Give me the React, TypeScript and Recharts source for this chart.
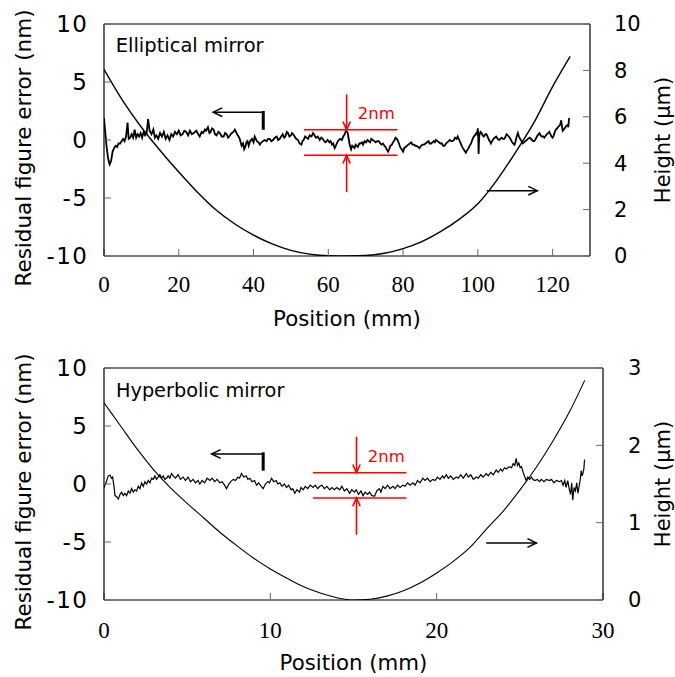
import React from 'react';
import { LineChart, Line, XAxis, YAxis, ReferenceLine, ReferenceDot } from 'recharts';

const SANS = "'DejaVu Sans', 'Open Sans', sans-serif";
const SERIF = "'Liberation Serif', 'DejaVu Serif', serif";

// ---------- Elliptical mirror (top) ----------
const ellipticalXTicks = [0, 20, 40, 60, 80, 100, 120];
const ellipticalHeightTicks = [0, 2, 4, 6, 8, 10];
const errorTicks = [-10, -5, 0, 5, 10];

// shape height (µm) vs position (mm)
const ellipticalHeight: [number, number][] = [
  [0, 8.05], [5, 6.7], [10, 5.55], [15, 4.55], [20, 3.62], [25, 2.75], [30, 1.98],
  [35, 1.38], [40, 0.9], [45, 0.52], [50, 0.24], [55, 0.08], [60, 0.01], [65, 0],
  [70, 0.02], [75, 0.12], [80, 0.32], [85, 0.62], [90, 1.05], [95, 1.58], [100, 2.25],
  [105, 3.25], [110, 4.45], [115, 5.75], [120, 7.3], [124.7, 8.6],
];

// residual figure error (nm) vs position (mm)
const ellipticalError: [number, number][] = [
  [0, 1.9], [0.3, 0.8], [0.7, -0.6], [1.1, -1.6], [1.5, -2.1], [1.9, -1.8], [2.3, -1.0],
  [2.7, -0.7], [3.1, -0.5], [3.5, -0.6], [3.9, -0.3], [4.3, -0.3], [4.7, -0.1], [5.1, 0.1],
  [5.5, -0.1], [5.9, 0.3], [6.3, 1.5], [6.6, 0.1], [7.0, 0.2], [7.4, 0.5], [7.8, 0.2],
  [8.2, 0.9], [8.6, 0.2], [9.0, 0.5], [9.4, 0.3], [9.8, 0.6], [10.2, 0.2], [10.6, 0.7],
  [11.0, 0.4], [11.4, 0.6], [11.8, 1.8], [12.2, 0.8], [12.7, 0.5], [13.2, 0.9], [13.6, 0.2],
  [14.0, 0.4], [14.5, 0.1], [15.0, 0.6], [15.5, 0.3], [16.0, 0.7], [16.5, 0.1], [17.0, 0.4],
  [17.5, 0.0], [18.0, 0.5], [18.5, 0.3], [19.0, 0.7], [19.5, 0.5], [20.0, 0.8], [20.5, 0.4],
  [21.0, 0.5], [21.5, 0.8], [22.0, 0.7], [22.5, 0.4], [23.0, 0.8], [23.5, 0.5], [24.0, 0.6],
  [24.7, 0.8], [25.2, 0.5], [25.6, 0.3], [26.1, 0.7], [26.5, 0.6], [27.0, 0.9], [27.3, 0.8],
  [27.8, 1.1], [28.2, 0.6], [28.5, 0.7], [28.9, 1.0], [29.3, 0.9], [29.7, 0.5], [30.1, 0.4],
  [30.6, 0.7], [31.0, 0.6], [31.5, 0.3], [32.0, 0.3], [32.4, 0.6], [32.8, 0.5], [33.2, 0.2],
  [33.5, 0.3], [33.9, 0.5], [34.2, 0.6], [34.6, 0.7], [35.0, 0.9], [35.3, 0.7], [35.6, 0.5],
  [36.0, 0.3], [36.3, 0.1], [36.8, -0.5], [37.2, -0.3], [37.5, -0.8], [37.8, -0.6], [38.1, -0.2],
  [38.4, -0.1], [38.7, -0.5], [39.0, -0.2], [39.3, 0.0], [39.6, 0.1], [40.0, -0.2], [40.3, 0.3],
  [40.6, 0.1], [40.9, -0.1], [41.3, -0.2], [41.7, -0.4], [42.1, -0.2], [42.5, -0.1], [43.0, 0.0],
  [43.5, -0.1], [43.9, 0.1], [44.3, 0.1], [44.8, -0.1], [45.2, 0.0], [45.7, 0.2], [46.2, 0.3],
  [46.6, 0.0], [47.0, 0.1], [47.4, 0.3], [47.8, 0.5], [48.2, 0.2], [48.5, 0.3], [48.9, 0.7],
  [49.2, 0.6], [49.6, 0.3], [50.0, 0.4], [50.3, 0.6], [50.6, 0.5], [51.0, 0.3], [51.4, 0.1],
  [51.9, 0.0], [52.3, -0.3], [52.8, -0.4], [53.1, -0.1], [53.4, 0.0], [53.8, 0.3], [54.2, 0.2],
  [54.6, 0.1], [55.0, 0.4], [55.5, 0.3], [55.9, 0.6], [56.3, 0.4], [56.7, 0.2], [57.2, 0.3],
  [57.7, 0.0], [58.1, 0.2], [58.5, 0.1], [58.9, -0.1], [59.3, -0.2], [59.8, 0.0], [60.3, -0.2],
  [60.6, -0.1], [61.0, -0.4], [61.3, -0.3], [61.7, -0.7], [62.0, -0.5], [62.4, -0.2], [62.8, 0.0],
  [63.2, 0.1], [63.6, 0.0], [64.0, 0.3], [64.4, 0.5], [64.7, 0.8], [65.0, 0.7], [65.2, 0.6],
  [65.5, 0.0], [65.7, -0.4], [66.1, -0.8], [66.4, -0.5], [66.7, -0.6], [67.0, -0.7], [67.3, -0.4],
  [67.6, -0.5], [67.9, -0.6], [68.3, -0.3], [68.6, -0.3], [69.0, -0.2], [69.3, -0.4], [69.7, -0.1],
  [70.1, -0.2], [70.5, 0.0], [70.8, -0.1], [71.2, -0.2], [71.5, 0.1], [71.9, 0.0], [72.3, -0.1],
  [72.7, -0.2], [73.1, -0.1], [73.5, -0.1], [73.9, -0.3], [74.2, -0.4], [74.6, -0.3], [75.0, -0.5],
  [75.3, -0.6], [75.6, -0.8], [76.0, -1.0], [76.3, -0.8], [76.6, -0.5], [77.0, -0.4], [77.3, -0.2],
  [77.7, 0.0], [78.0, 0.2], [78.3, 0.1], [78.5, 0.0], [78.9, -0.3], [79.2, -0.6], [79.6, -0.8],
  [80.0, -1.0], [80.3, -0.7], [80.7, -0.6], [81.0, -0.5], [81.4, -0.4], [81.8, -0.3], [82.2, -0.2],
  [82.5, -0.4], [82.9, -0.4], [83.3, -0.5], [83.6, -0.5], [84.0, -0.6], [84.4, -0.7], [84.8, -0.5],
  [85.2, -0.4], [85.6, -0.4], [86.0, -0.3], [86.4, -0.2], [86.8, -0.1], [87.1, -0.3], [87.5, -0.3],
  [87.9, -0.2], [88.2, -0.1], [88.5, -0.2], [88.8, 0.0], [89.2, -0.1], [89.6, -0.2], [90.0, -0.3],
  [90.4, -0.3], [90.7, -0.5], [91.1, -0.5], [91.5, -0.3], [91.8, -0.2], [92.2, -0.1], [92.5, 0.0],
  [92.9, -0.1], [93.2, -0.1], [93.6, 0.0], [93.9, 0.2], [94.3, 0.1], [94.6, 0.3], [95.0, 0.0],
  [95.3, -0.2], [95.7, -0.5], [96.0, -0.7], [96.4, -0.9], [96.8, -1.1], [97.1, -0.9], [97.5, -0.7],
  [97.8, -0.5], [98.2, -0.3], [98.5, 0.0], [98.9, 0.3], [99.2, 0.4], [99.6, 0.6], [99.8, 0.5],
  [100.0, 1.0], [100.1, 0.3], [100.2, -1.2], [100.3, -0.2], [100.4, 0.4], [100.7, 0.7], [101.0, 0.6],
  [101.3, 0.4], [101.6, 0.3], [102.0, 0.5], [102.3, 0.5], [102.6, 0.3], [103.0, 0.0], [103.5, -0.3],
  [103.8, -0.1], [104.2, 0.1], [104.5, 0.2], [104.9, 0.3], [105.3, 0.1], [105.7, 0.0], [106.0, 0.1],
  [106.4, 0.2], [106.7, 0.1], [107.1, 0.1], [107.4, 0.3], [107.7, 0.5], [108.0, 0.4], [108.3, 0.3],
  [108.7, 0.1], [109.0, -0.1], [109.4, -0.3], [109.8, -0.4], [110.1, -0.1], [110.3, 0.2], [110.7, 0.6],
  [111.0, 0.3], [111.3, 0.1], [111.7, -0.1], [112.0, -0.3], [112.4, -0.2], [112.7, -0.1], [113.1, 0.0],
  [113.4, 0.1], [113.9, 0.2], [114.2, 0.1], [114.5, 0.0], [114.8, -0.1], [115.1, -0.1], [115.5, 0.1],
  [115.8, 0.3], [116.2, 0.5], [116.5, 0.6], [116.8, 0.4], [117.1, 0.3], [117.5, 0.3], [117.8, 0.2],
  [118.2, 0.4], [118.5, 0.5], [118.8, 0.6], [119.1, 0.7], [119.4, 0.5], [119.7, 0.3], [120.0, 0.2],
  [120.3, 0.4], [120.6, 0.7], [120.9, 0.9], [121.2, 1.0], [121.4, 1.1], [121.7, 1.2], [122.0, 1.3],
  [122.3, 1.7], [122.5, 1.2], [122.7, 0.8], [123.0, 0.9], [123.2, 1.0], [123.6, 1.2], [124.0, 1.3],
  [124.2, 1.1], [124.4, 1.9],
];

// ---------- Hyperbolic mirror (bottom) ----------
const hyperbolicXTicks = [0, 10, 20, 30];
const hyperbolicHeightTicks = [0, 1, 2, 3];

const hyperbolicHeight: [number, number][] = [
  [0, 2.55], [1, 2.25], [2, 1.95], [3, 1.68], [4, 1.45], [5, 1.25], [6, 1.06], [7, 0.87],
  [8, 0.7], [9, 0.54], [10, 0.4], [11, 0.28], [12, 0.17], [13, 0.09], [14, 0.03], [15, 0.0],
  [16, 0.01], [17, 0.05], [18, 0.12], [19, 0.22], [20, 0.35], [21, 0.5], [22, 0.68], [23, 0.92],
  [24, 1.15], [25, 1.42], [26, 1.72], [27, 2.06], [28, 2.44], [28.9, 2.84],
];

const hyperbolicError: [number, number][] = [
  [0.0, -0.3], [0.12, 0.1], [0.25, 0.7], [0.36, 0.75], [0.45, 0.5], [0.52, 0.6], [0.6, -0.2],
  [0.66, -1.0], [0.76, -1.1], [0.86, -1.3], [0.96, -0.9], [1.06, -0.7], [1.16, -1.0], [1.26, -0.8],
  [1.36, -1.0], [1.46, -0.6], [1.56, -0.8], [1.66, -0.4], [1.76, -0.7], [1.86, -0.5], [1.96, -0.6],
  [2.06, -0.2], [2.16, -0.4], [2.26, 0.1], [2.36, -0.2], [2.46, 0.2], [2.56, 0.0], [2.66, 0.3],
  [2.76, 0.1], [2.86, 0.5], [2.96, 0.4], [3.06, 0.7], [3.16, 0.4], [3.26, 0.6], [3.36, 0.8],
  [3.46, 0.5], [3.56, 0.7], [3.66, 0.4], [3.76, 0.5], [3.86, 0.7], [3.96, 0.5], [4.06, 0.9],
  [4.16, 0.7], [4.3, 0.5], [4.45, 0.8], [4.6, 0.4], [4.76, 0.6], [4.9, 0.3], [5.05, 0.6],
  [5.2, 0.2], [5.36, 0.4], [5.5, 0.1], [5.65, 0.3], [5.76, 0.0], [5.9, 0.3], [6.05, 0.1],
  [6.2, 0.5], [6.37, 0.3], [6.5, 0.5], [6.65, 0.2], [6.8, 0.4], [6.97, 0.1], [7.1, 0.2],
  [7.25, -0.1], [7.37, -0.4], [7.5, 0.0], [7.62, 0.2], [7.77, 0.4], [7.9, 0.3], [8.05, 0.6],
  [8.15, 0.5], [8.27, 0.9], [8.4, 0.6], [8.55, 0.7], [8.65, 0.4], [8.77, 0.5], [8.9, 0.2],
  [9.05, 0.3], [9.17, -0.1], [9.3, 0.1], [9.45, -0.2], [9.57, -0.4], [9.7, 0.0], [9.85, 0.2],
  [9.95, 0.1], [10.07, 0.5], [10.2, 0.2], [10.35, 0.3], [10.45, 0.0], [10.57, 0.1], [10.7, -0.2],
  [10.85, 0.0], [10.97, -0.3], [11.1, -0.1], [11.25, -0.5], [11.35, -0.4], [11.47, -0.8], [11.6, -0.5],
  [11.75, -0.7], [11.85, -0.3], [11.97, -0.5], [12.1, -0.2], [12.25, -0.4], [12.4, -0.1], [12.57, -0.3],
  [12.7, -0.1], [12.85, -0.4], [12.97, -0.2], [13.1, -0.1], [13.25, -0.4], [13.4, -0.2], [13.57, -0.5],
  [13.7, -0.3], [13.85, -0.5], [14.0, -0.3], [14.17, -0.5], [14.3, -0.2], [14.45, -0.6], [14.6, -0.4],
  [14.77, -0.8], [14.9, -0.5], [15.05, -0.7], [15.17, -0.5], [15.3, -0.9], [15.45, -0.6], [15.57, -1.0],
  [15.7, -0.7], [15.85, -0.9], [15.97, -0.7], [16.1, -1.0], [16.27, -1.05], [16.4, -0.6], [16.55, -0.4],
  [16.65, -0.7], [16.77, -0.2], [16.9, -0.4], [17.05, -0.1], [17.2, -0.4], [17.37, -0.2], [17.5, -0.4],
  [17.65, -0.1], [17.8, -0.3], [17.97, -0.1], [18.1, -0.2], [18.25, 0.1], [18.4, -0.1], [18.57, 0.1],
  [18.7, -0.1], [18.85, 0.3], [19.0, 0.1], [19.17, 0.5], [19.3, 0.3], [19.45, 0.5], [19.6, 0.2],
  [19.77, 0.4], [19.9, 0.3], [20.05, 0.6], [20.2, 0.4], [20.35, 0.7], [20.45, 0.5], [20.58, 0.8],
  [20.7, 0.5], [20.85, 0.7], [21.0, 0.4], [21.18, 0.6], [21.3, 0.5], [21.45, 0.8], [21.6, 0.5],
  [21.78, 0.9], [21.9, 0.6], [22.05, 0.8], [22.2, 0.4], [22.38, 0.6], [22.5, 0.5], [22.65, 0.8],
  [22.8, 0.6], [22.98, 0.9], [23.1, 0.7], [23.25, 1.0], [23.4, 0.8], [23.58, 1.2], [23.7, 1.0],
  [23.85, 1.3], [23.95, 1.1], [24.08, 1.4], [24.2, 1.3], [24.35, 1.5], [24.5, 1.4], [24.6, 1.75],
  [24.7, 1.6], [24.78, 2.2], [24.86, 1.6], [24.94, 1.8], [25.02, 1.4], [25.1, 1.5], [25.2, 1.0],
  [25.3, 0.6], [25.38, 0.3], [25.48, 0.6], [25.6, 0.4], [25.7, 0.6], [25.78, 0.4], [25.9, 0.3],
  [26.05, 0.4], [26.18, 0.2], [26.3, 0.4], [26.45, 0.2], [26.6, 0.4], [26.78, 0.3], [26.9, 0.4],
  [27.05, 0.1], [27.2, 0.3], [27.38, 0.2], [27.5, 0.3], [27.6, -0.1], [27.7, 0.3], [27.78, -0.3],
  [27.88, 0.3], [27.98, -0.5], [28.05, -0.9], [28.12, 0.1], [28.18, -1.4], [28.26, -0.3], [28.34, -0.6],
  [28.42, 0.1], [28.49, -0.8], [28.55, -0.3], [28.59, 0.0], [28.65, 0.6], [28.69, 1.15], [28.74, 0.7],
  [28.79, 0.9], [28.85, 1.3], [28.89, 2.1],
];

const toRows = (pairs: [number, number][]) => pairs.map(([x, y]) => ({ x, y }));

const arrowShape = (color: string, width: number, head: number, spread = 0.45) => (p: any) => {
  const { x1, y1, x2, y2 } = p;
  const ang = Math.atan2(y2 - y1, x2 - x1);
  const a1 = ang + Math.PI - spread;
  const a2 = ang + Math.PI + spread;
  const pts = `${x2 + head * Math.cos(a1)},${y2 + head * Math.sin(a1)} ${x2},${y2} ${x2 + head * Math.cos(a2)},${y2 + head * Math.sin(a2)}`;
  return (
    <g>
      <line x1={x1} y1={y1} x2={x2} y2={y2} stroke={color} strokeWidth={width} />
      <polyline points={pts} fill="none" stroke={color} strokeWidth={width} />
    </g>
  );
};

const textShape = (text: string, size: number, color: string) => (p: any) => (
  <text x={p.cx} y={p.cy} fontFamily={SANS} fontSize={size} fill={color} dominantBaseline="central" textAnchor="start">
    {text}
  </text>
);

interface PanelProps {
  title: string;
  titlePos: [number, number];
  titleSize: number;
  xMax: number;
  xTicks: number[];
  hTicks: number[];
  hMax: number;
  height: [number, number][];
  error: [number, number][];
  width: number;
  chartHeight: number;
  marginTop: number;
  rightWidth: number;
  tickMarginX: number;
  tickMarginR: number;
  lineW: number;
  errW: number;
  redX: [number, number];
  redY: [number, number];
  redArrowX: number;
  redArrowFrom: [number, number];
  twoNmPos: [number, number];
  leftArrow: { y: number; from: number; to: number; barTop: number; barBottom: number };
  rightArrow: { y: number; from: number; to: number };
}

const Panel = (p: PanelProps) => {
  const errRows = toRows(p.error);
  const hRows = toRows(p.height);
  const tickLine = { stroke: '#666', strokeWidth: 1 };
  const axisLine = { stroke: '#000', strokeWidth: 1.2 };
  return (
    <LineChart width={p.width} height={p.chartHeight} margin={{ top: p.marginTop, right: 0, bottom: 0, left: 0 }}>
      <XAxis
        type="number"
        dataKey="x"
        domain={[0, p.xMax]}
        ticks={p.xTicks}
        allowDataOverflow
        height={p.chartHeight - p.marginTop - 232}
        tickSize={-7}
        tickMargin={p.tickMarginX}
        tickLine={tickLine}
        axisLine={axisLine}
        tick={{ fontFamily: SERIF, fontSize: 23, fill: '#000' }}
        label={(lp: any) => {
          const vb = lp.viewBox;
          return (
            <text x={vb.x + vb.width / 2} y={vb.y + 62} textAnchor="middle" dominantBaseline="central" fontFamily={SANS} fontSize={21.3} fill="#000">
              Position (mm)
            </text>
          );
        }}
      />
      <YAxis
        yAxisId="l"
        type="number"
        domain={[-10, 10]}
        ticks={errorTicks}
        allowDataOverflow
        width={96}
        tickSize={-7}
        tickMargin={22.5}
        tickLine={tickLine}
        axisLine={axisLine}
        tick={{ fontFamily: SANS, fontSize: 23, fill: '#000', letterSpacing: 1.5 }}
        label={(lp: any) => {
          const vb = lp.viewBox;
          const cx = 15;
          const cy = vb.y + vb.height / 2 + 8;
          return (
            <text x={cx} y={cy} transform={`rotate(-90, ${cx}, ${cy})`} textAnchor="middle" dominantBaseline="central" fontFamily={SANS} fontSize={21.5} fill="#000">
              Residual figure error (nm)
            </text>
          );
        }}
      />
      <YAxis
        yAxisId="r"
        orientation="right"
        type="number"
        domain={[0, p.hMax]}
        ticks={p.hTicks}
        allowDataOverflow
        width={p.rightWidth}
        tickSize={-7}
        tickMargin={p.tickMarginR}
        tickLine={tickLine}
        axisLine={axisLine}
        tick={{ fontFamily: SANS, fontSize: 21, fill: '#000' }}
        label={(lp: any) => {
          const vb = lp.viewBox;
          const cx = 655;
          const cy = vb.y + vb.height / 2;
          return (
            <text x={cx} y={cy} transform={`rotate(-90, ${cx}, ${cy})`} textAnchor="middle" dominantBaseline="central" fontFamily={SANS} fontSize={21} fill="#000">
              Height (µm)
            </text>
          );
        }}
      />
      {/* top frame */}
      <ReferenceLine yAxisId="l" y={10} stroke="#000" strokeWidth={1.2} />

      <Line yAxisId="r" data={hRows} dataKey="y" type="monotone" stroke="#000" strokeWidth={p.lineW} dot={false} isAnimationActive={false} />
      <Line yAxisId="l" data={errRows} dataKey="y" type="linear" stroke="#000" strokeWidth={p.errW} dot={false} isAnimationActive={false} />

      {/* red 2 nm annotation */}
      <ReferenceLine yAxisId="l" segment={[{ x: p.redX[0], y: p.redY[0] }, { x: p.redX[1], y: p.redY[0] }]} stroke="#ff0000" strokeWidth={1.6} />
      <ReferenceLine yAxisId="l" segment={[{ x: p.redX[0], y: p.redY[1] }, { x: p.redX[1], y: p.redY[1] }]} stroke="#ff0000" strokeWidth={1.6} />
      <ReferenceLine yAxisId="l" segment={[{ x: p.redArrowX, y: p.redArrowFrom[0] }, { x: p.redArrowX, y: p.redY[0] }]} shape={arrowShape('#ff0000', 1.6, 9, 0.42)} />
      <ReferenceLine yAxisId="l" segment={[{ x: p.redArrowX, y: p.redArrowFrom[1] }, { x: p.redArrowX, y: p.redY[1] }]} shape={arrowShape('#ff0000', 1.6, 9, 0.42)} />
      <ReferenceDot yAxisId="l" x={p.twoNmPos[0]} y={p.twoNmPos[1]} r={1} shape={textShape('2nm', 16.5, '#ff0000')} />

      {/* black direction arrows */}
      <ReferenceLine yAxisId="l" segment={[{ x: p.leftArrow.from, y: p.leftArrow.y }, { x: p.leftArrow.to, y: p.leftArrow.y }]} shape={arrowShape('#000', 1.5, 10, 0.45)} />
      <ReferenceLine yAxisId="l" segment={[{ x: p.leftArrow.from, y: p.leftArrow.barTop }, { x: p.leftArrow.from, y: p.leftArrow.barBottom }]} stroke="#000" strokeWidth={3} />
      <ReferenceLine yAxisId="l" segment={[{ x: p.rightArrow.from, y: p.rightArrow.y }, { x: p.rightArrow.to, y: p.rightArrow.y }]} shape={arrowShape('#000', 1.5, 10, 0.45)} />

      <ReferenceDot yAxisId="l" x={p.titlePos[0]} y={p.titlePos[1]} r={1} shape={textShape(p.title, p.titleSize, '#000')} />
    </LineChart>
  );
};

export default function App() {
  return (
    <div style={{ position: 'absolute', left: 0, top: 0, width: 675, height: 677, overflow: 'hidden' }}>
      <div style={{ position: 'absolute', left: 8, top: 8 }}>
        <Panel
          title="Elliptical mirror"
          titlePos={[3.13, 8.18]}
          titleSize={19.5}
          xMax={130}
          xTicks={ellipticalXTicks}
          hTicks={ellipticalHeightTicks}
          hMax={10}
          height={ellipticalHeight}
          error={ellipticalError}
          width={667}
          chartHeight={340}
          marginTop={16}
          rightWidth={85}
          tickMarginX={27}
          tickMarginR={31}
          lineW={1.4}
          errW={1.8}
          redX={[53.5, 78.5]}
          redY={[0.88, -1.32]}
          redArrowX={64.9}
          redArrowFrom={[3.94, -4.5]}
          twoNmPos={[67.9, 2.32]}
          leftArrow={{ y: 2.4, from: 42.6, to: 29.2, barTop: 2.5, barBottom: 0.88 }}
          rightArrow={{ y: -4.37, from: 102.4, to: 115.9 }}
        />
      </div>
      <div style={{ position: 'absolute', left: 8, top: 348 }}>
        <Panel
          title="Hyperbolic mirror"
          titlePos={[0.72, 8.04]}
          titleSize={19.3}
          xMax={30}
          xTicks={hyperbolicXTicks}
          hTicks={hyperbolicHeightTicks}
          hMax={3}
          height={hyperbolicHeight}
          error={hyperbolicError}
          width={667}
          chartHeight={329}
          marginTop={20}
          rightWidth={72}
          tickMarginX={29}
          tickMarginR={32}
          lineW={1.1}
          errW={1.2}
          redX={[12.57, 18.18]}
          redY={[0.97, -1.21]}
          redArrowX={15.18}
          redArrowFrom={[4.08, -4.37]}
          twoNmPos={[15.86, 2.33]}
          leftArrow={{ y: 2.59, from: 9.57, to: 6.47, barTop: 2.73, barBottom: 1.15 }}
          rightArrow={{ y: -5.09, from: 22.98, to: 26.0 }}
        />
      </div>
    </div>
  );
}
